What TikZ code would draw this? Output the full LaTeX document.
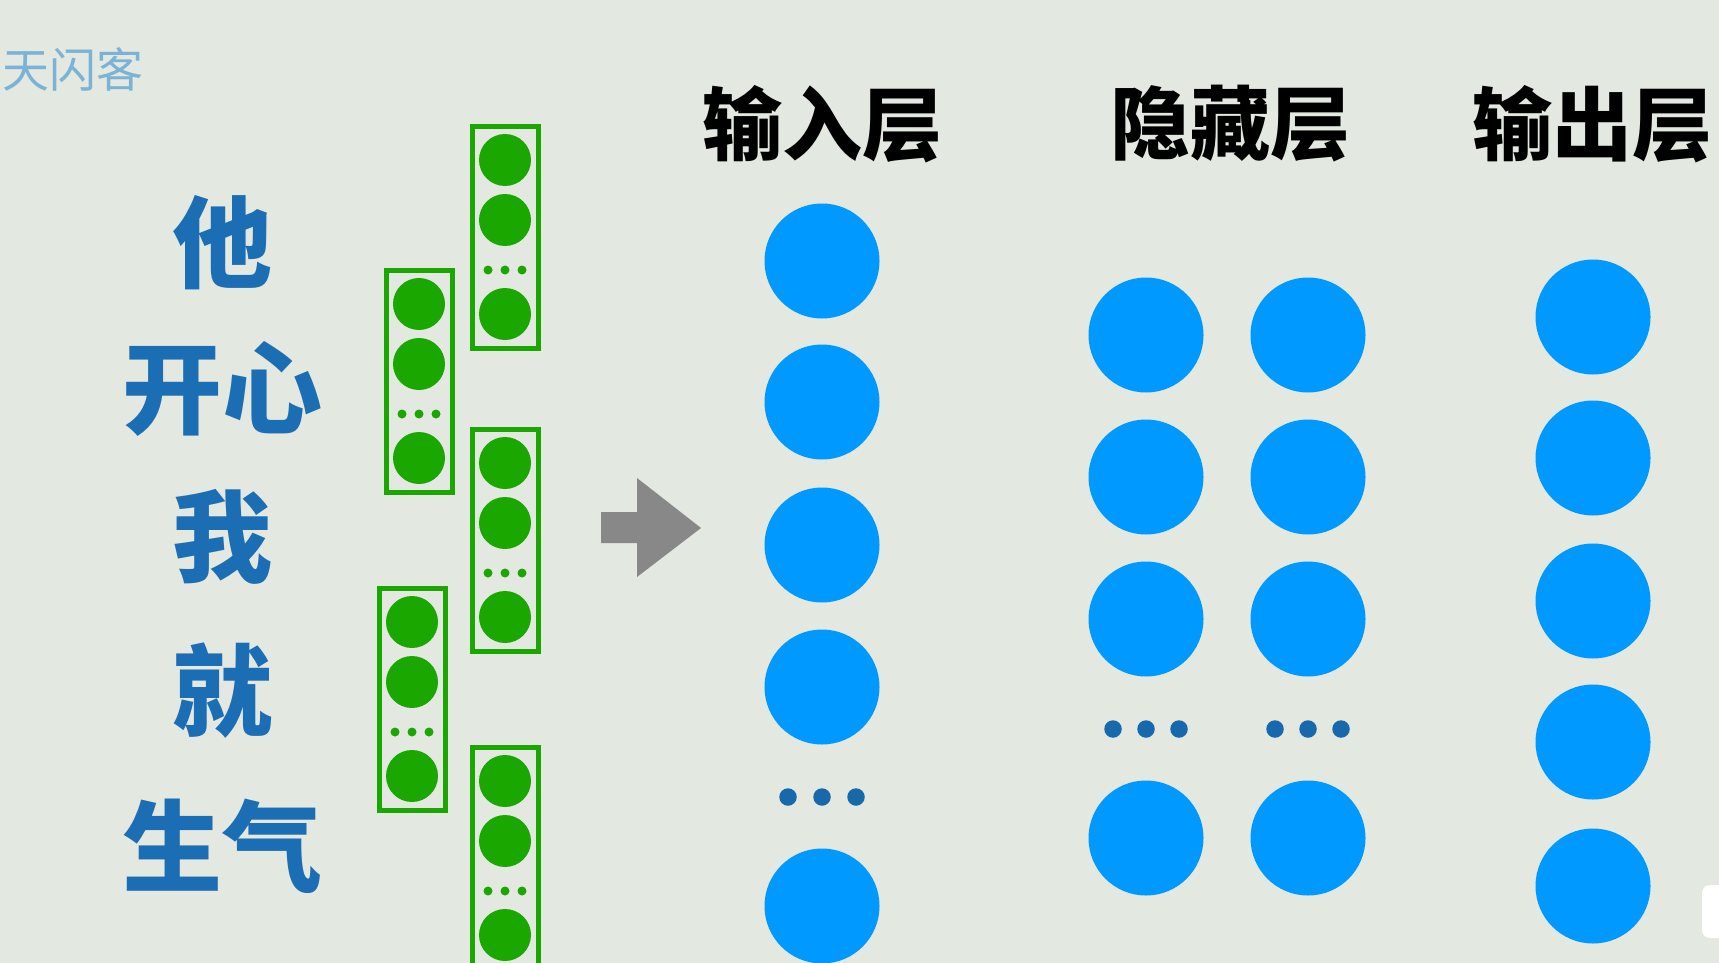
\documentclass[tikz,border=0pt]{standalone}
\usepackage{fontspec}
\newfontfamily\cjk{Noto Sans CJK SC}
\definecolor{bg}{RGB}{227,232,225}
\definecolor{nblue}{RGB}{0,153,255}
\definecolor{dblue}{RGB}{24,104,172}
\definecolor{tblue}{RGB}{28,110,180}
\definecolor{wblue}{RGB}{123,179,214}
\definecolor{ngreen}{RGB}{26,168,0}
\definecolor{agray}{RGB}{136,136,136}
\tikzset{
  bnode/.style={circle, fill=nblue, minimum size=115pt, inner sep=0pt},
  bdot/.style={circle, fill=dblue, minimum size=17.5pt, inner sep=0pt},
  gnode/.style={circle, fill=ngreen, minimum size=52pt, inner sep=0pt},
  gdot/.style={circle, fill=ngreen, minimum size=9pt, inner sep=0pt},
  gbox/.style={draw=ngreen, line width=5pt},
  word/.style={font=\cjk\bfseries\fontsize{100}{100}\selectfont, text=tblue, inner sep=0pt},
  head/.style={font=\cjk\bfseries\fontsize{80}{80}\selectfont, text=black, inner sep=0pt},
}
\newcommand\gcol[3]{%
  \draw[gbox] ({#2-33},{#3+2.5}) rectangle ({#2+33},{#3+224.5});
  \node[gnode] (#1a) at (#2,{#3+36}) {};
  \node[gnode] (#1b) at (#2,{#3+96}) {};
  \node[gdot] (#1d1) at ({#2-17},{#3+146}) {};
  \node[gdot] (#1d2) at (#2,{#3+146}) {};
  \node[gdot] (#1d3) at ({#2+17},{#3+146}) {};
  \node[gnode] (#1c) at (#2,{#3+190}) {};
}
\begin{document}
\begin{tikzpicture}[x=1pt,y=-1pt]
\fill[bg] (0,0) rectangle (1719,963);
\useasboundingbox (0,0) rectangle (1719,963);
% watermark
\node[font=\cjk\fontsize{47}{47}\selectfont, text=wblue, inner sep=0pt] (wm) at (73,69) {天闪客};
% left words
\node[word] (w1) at (222,243) {他};
\node[word] (w2) at (222,389) {开心};
\node[word] (w3) at (222,537) {我};
\node[word] (w4) at (222,691) {就};
\node[word] (w5) at (222,846) {生气};
% green vectors
\gcol{A}{505}{124}
\gcol{B}{419}{268}
\gcol{C}{505}{427}
\gcol{D}{412}{586}
\gcol{E}{505}{745}
% arrow
\fill[agray] (601,512) -- (637,512) -- (637,478) -- (701,528) -- (637,577) -- (637,543) -- (601,543) -- cycle;
% headings
\node[head] (h1) at (822,124) {输入层};
\node[head] (h2) at (1230,124) {隐藏层};
\node[head] (h3) at (1592,124) {输出层};
% input layer
\node[bnode] (i1) at (822,261) {};
\node[bnode] (i2) at (822,402) {};
\node[bnode] (i3) at (822,545) {};
\node[bnode] (i4) at (822,687) {};
\node[bdot] (id1) at (788,797) {};
\node[bdot] (id2) at (822,797) {};
\node[bdot] (id3) at (856,797) {};
\node[bnode] (i5) at (822,906) {};
% hidden layer
\foreach \c/\x in {p/1146, q/1308} {
  \node[bnode] (\c1) at (\x,335) {};
  \node[bnode] (\c2) at (\x,477) {};
  \node[bnode] (\c3) at (\x,619) {};
  \node[bdot] (\c d1) at (\x-33,729) {};
  \node[bdot] (\c d2) at (\x,729) {};
  \node[bdot] (\c d3) at (\x+33,729) {};
  \node[bnode] (\c4) at (\x,838) {};
}
% output layer
\node[bnode] (o1) at (1593,317) {};
\node[bnode] (o2) at (1593,458) {};
\node[bnode] (o3) at (1593,601) {};
\node[bnode] (o4) at (1593,742) {};
\node[bnode] (o5) at (1593,886) {};
% corner widget
\fill[white, rounded corners=8pt] (1702,885) rectangle (1735,938);
\end{tikzpicture}
\end{document}
